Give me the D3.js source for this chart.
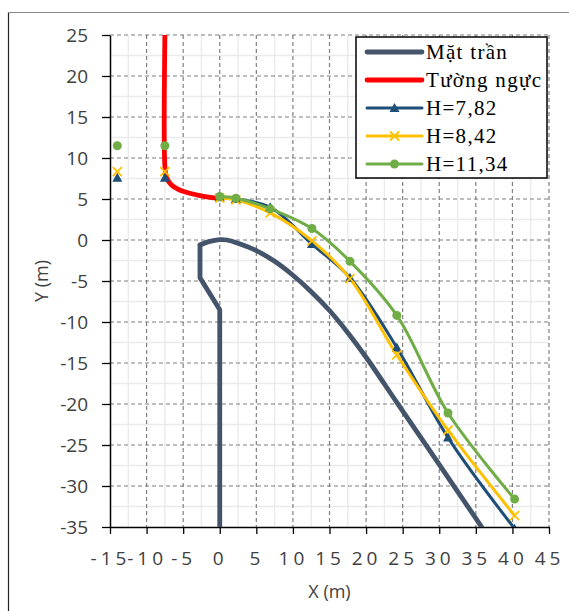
<!DOCTYPE html>
<html><head><meta charset="utf-8">
<script src="https://cdn.jsdelivr.net/npm/d3@7"></script>
<style>
html,body{margin:0;padding:0;background:#fff;}
svg{display:block;}
</style></head>
<body>
<svg id="c" width="569" height="611"></svg>
<script>
// ---- data ----
const xTicks = [-15,-10,-5,0,5,10,15,20,25,30,35,40,45];
const yTicks = [25,20,15,10,5,0,-5,-10,-15,-20,-25,-30,-35];
const xMinor = d3.range(-12.5, 45, 5);
const yMinor = d3.range(-32.5, 25, 5);

// Mặt trần: straight lower part, then smooth crest curve
const matTranStemX = [0,0,-2.7,-2.7];
const matTranStemY = [-35,-8.5,-4.6,-0.6];
const matTranCrestX = [-2.7,-1.5,0,1,2.5,5,7.5,10,12.5,15,17.5,20,24.2,28.8,35.8];
const matTranCrestY = [-0.6,-0.2,0.05,0,-0.4,-1.3,-2.6,-4.3,-6.3,-8.6,-11.3,-14.3,-19.8,-25.8,-35];

const tuongX = [-7.5,-7.5,-7.3,-6.6,-5.5,-4.1,-2.7,-1.3,0];
const tuongY = [25,9,7.7,6.7,6.1,5.7,5.4,5.2,5.1];

const hX = [-14,null,-7.5,null,0,2.2,6.9,12.6,17.8,24.2,31.2,40.3];
const h782 = [7.6,null,7.6,null,5.2,5.0,4.0,-0.5,-4.6,-13.1,-24.1,-35.2];
const h842 = [8.35,null,8.35,null,5.1,4.9,3.3,-0.1,-4.7,-14.0,-23.2,-33.6];
const h1134 = [11.5,null,11.5,null,5.3,5.1,3.8,1.4,-2.6,-9.2,-21.1,-31.6];

const legendLabels = ["Mặt trần","Tường ngực","H=7,82","H=8,42","H=11,34"];
const colors = ["#44546A","#FF0000","#1F4E79","#FFC000","#70AD47"];
const markers = [null,null,"tri","x","circle"];

// ---- layout ----
const svg = d3.select("#c");
const L=110, R=549, T=35, B=527;
const x = d3.scaleLinear().domain([-15,45]).range([L,R]);
const y = d3.scaleLinear().domain([-35,25]).range([B,T]);

// frame
svg.append("line").attr("x1",8.5).attr("x2",8.5).attr("y1",12).attr("y2",611).attr("stroke","#222").attr("stroke-width",1.2);
svg.append("line").attr("x1",8).attr("x2",569).attr("y1",12.5).attr("y2",12.5).attr("stroke","#8a8a8a").attr("stroke-width",1.2);

// minor grid
const g = svg.append("g");
g.selectAll(".mx").data(xMinor).join("line").attr("x1",d=>x(d)).attr("x2",d=>x(d)).attr("y1",T).attr("y2",B).attr("stroke","#ebebeb").attr("stroke-width",1.4);
g.selectAll(".my").data(yMinor).join("line").attr("y1",d=>y(d)).attr("y2",d=>y(d)).attr("x1",L).attr("x2",R).attr("stroke","#ebebeb").attr("stroke-width",1.4);
// major grid dashed
g.selectAll(".gx").data(xTicks.slice(1)).join("line").attr("x1",d=>x(d)).attr("x2",d=>x(d)).attr("y1",T).attr("y2",B).attr("stroke","#7f7f7f").attr("stroke-width",1.2).attr("stroke-dasharray","4,3");
g.selectAll(".gy").data(yTicks.slice(0,-1)).join("line").attr("y1",d=>y(d)).attr("y2",d=>y(d)).attr("x1",L).attr("x2",R).attr("stroke","#7f7f7f").attr("stroke-width",1.2).attr("stroke-dasharray","4,3");

// axes
const ax = svg.append("g").attr("transform",`translate(0,${B})`)
  .call(d3.axisBottom(x).tickValues(xTicks).tickSize(7).tickSizeOuter(0).tickFormat(d=>String(d)));
ax.select(".domain").attr("stroke","#000").attr("stroke-width",1.5);
ax.selectAll(".tick line").attr("stroke","#000").attr("stroke-width",1.3);
ax.selectAll(".tick text").attr("font-family","'Open Sans', sans-serif").attr("font-size","19px").attr("fill","#404040").attr("letter-spacing","4px").attr("dy","0").attr("y",38);

const ay = svg.append("g").attr("transform",`translate(${L},0)`)
  .call(d3.axisLeft(y).tickValues(yTicks).tickSize(8).tickSizeOuter(0).tickFormat(d=>String(d)));
ay.select(".domain").attr("stroke","#000").attr("stroke-width",1.5);
ay.selectAll(".tick line").attr("stroke","#000").attr("stroke-width",1.3);
ay.selectAll(".tick text").attr("font-family","'Open Sans', sans-serif").attr("font-size","19px").attr("fill","#404040").attr("x",-22).attr("dy","0.35em");

// titles
svg.append("text").attr("x",(L+R)/2).attr("y",598).attr("text-anchor","middle").attr("font-family","'Open Sans', sans-serif").attr("font-size","18px").attr("fill","#404040").text("X (m)");
svg.append("text").attr("transform",`translate(48,${(T+B)/2}) rotate(-90)`).attr("text-anchor","middle").attr("font-family","'Open Sans', sans-serif").attr("font-size","18px").attr("fill","#404040").text("Y (m)");

// clip
svg.append("clipPath").attr("id","clip").append("rect").attr("x",L).attr("y",T-3).attr("width",R-L).attr("height",B-T+3);
const plot = svg.append("g").attr("clip-path","url(#clip)");

const lin = d3.line().x(d=>x(d[0])).y(d=>y(d[1]));
const cr = d3.line().x(d=>x(d[0])).y(d=>y(d[1])).curve(d3.curveCatmullRom.alpha(0.5));
plot.append("path").datum(matTranStemX.map((v,i)=>[v,matTranStemY[i]])).attr("d",lin).attr("fill","none").attr("stroke",colors[0]).attr("stroke-width",4.8).attr("stroke-linejoin","round").attr("stroke-linecap","round");
plot.append("path").datum(matTranCrestX.map((v,i)=>[v,matTranCrestY[i]])).attr("d",cr).attr("fill","none").attr("stroke",colors[0]).attr("stroke-width",4.8).attr("stroke-linejoin","round").attr("stroke-linecap","round");
plot.append("path").datum(tuongX.map((v,i)=>[v,tuongY[i]])).attr("d",cr).attr("fill","none").attr("stroke",colors[1]).attr("stroke-width",4.8);

const smooth = d3.line().defined(d=>d[0]!==null && d[1]!==null).x(d=>x(d[0])).y(d=>y(d[1])).curve(d3.curveCatmullRom.alpha(0.5));
const series = [h782,h842,h1134];
function drawMarker(sel, type, cx, cy, color){
  if(type==="tri"){
    const s=5;
    sel.append("path").attr("d",`M${cx},${cy-s}L${cx+s},${cy+s*0.8}L${cx-s},${cy+s*0.8}Z`).attr("fill",color);
  } else if(type==="x"){
    const s=4.5;
    sel.append("path").attr("d",`M${cx-s},${cy-s}L${cx+s},${cy+s}M${cx-s},${cy+s}L${cx+s},${cy-s}`).attr("stroke",color).attr("stroke-width",1.8).attr("fill","none");
  } else if(type==="circle"){
    sel.append("circle").attr("cx",cx).attr("cy",cy).attr("r",4.5).attr("fill",color);
  }
}
series.forEach((ys,si)=>{
  const pts = hX.map((v,i)=>[v,ys[i]]);
  plot.append("path").datum(pts).attr("d",smooth).attr("fill","none").attr("stroke",colors[si+2]).attr("stroke-width",3);
});
series.forEach((ys,si)=>{
  const mg = plot.append("g");
  hX.forEach((v,i)=>{ if(v!==null && ys[i]!==null) drawMarker(mg, markers[si+2], x(v), y(ys[i]), colors[si+2]); });
});

// legend
const lg = svg.append("g");
lg.append("rect").attr("x",356).attr("y",37).attr("width",191).attr("height",141).attr("fill","#fff").attr("stroke","#000").attr("stroke-width",1.5);
legendLabels.forEach((lab,i)=>{
  const cy = 52 + i*28;
  lg.append("line").attr("x1",367).attr("x2",422).attr("y1",cy).attr("y2",cy).attr("stroke",colors[i]).attr("stroke-width",i<2?4.8:3).attr("stroke-linecap","round");
  if(markers[i]) drawMarker(lg, markers[i], 394.5, cy, colors[i]);
  lg.append("text").attr("x",426).attr("y",cy+7).attr("font-family","'Liberation Serif', 'Times New Roman', serif").attr("font-size","21px").attr("letter-spacing","1.3px").attr("fill","#000").text(lab);
});
</script>
</body></html>
